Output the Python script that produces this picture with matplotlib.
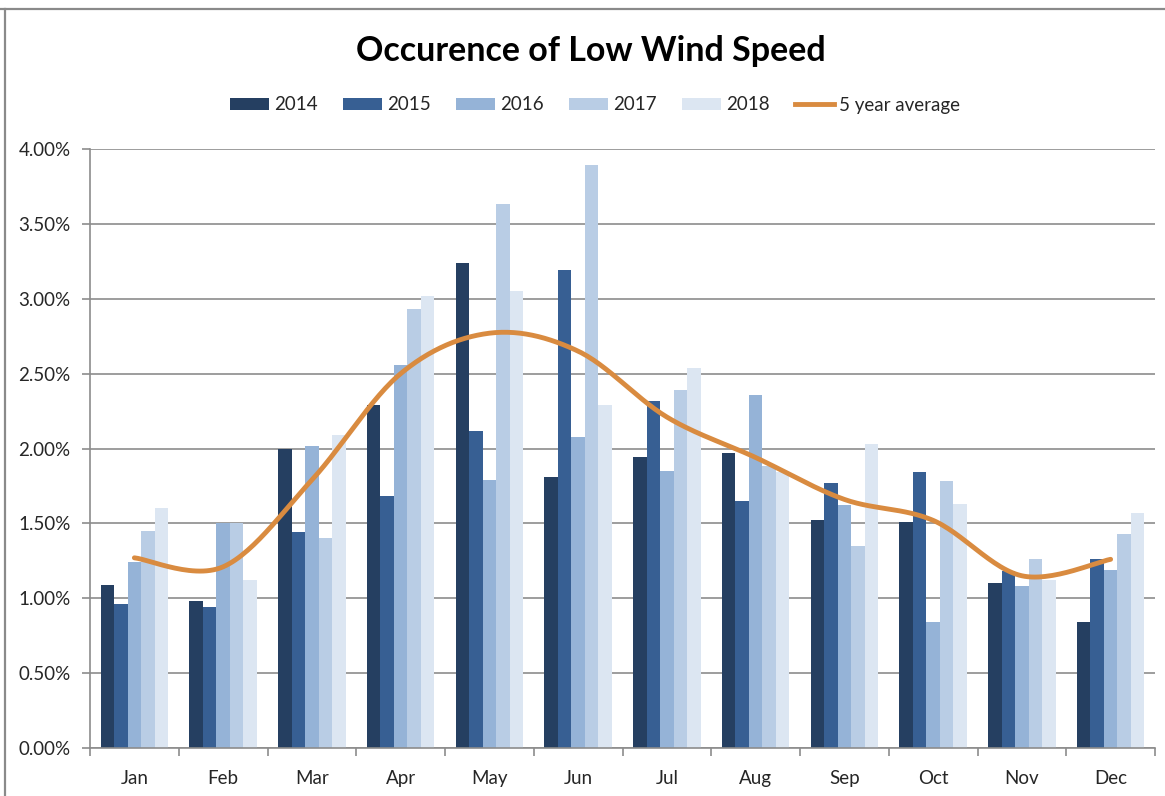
import matplotlib.pyplot as plt
import numpy as np
from matplotlib.lines import Line2D
from matplotlib.patches import Patch

months = ["Jan", "Feb", "Mar", "Apr", "May", "Jun", "Jul", "Aug", "Sep", "Oct", "Nov", "Dec"]
years = ["2014", "2015", "2016", "2017", "2018"]

# share of hours with low wind speed, in percent
y2014 = [1.09, 0.98, 2.00, 2.29, 3.24, 1.81, 1.94, 1.97, 1.52, 1.51, 1.10, 0.84]
y2015 = [0.96, 0.94, 1.44, 1.68, 2.12, 3.19, 2.32, 1.65, 1.77, 1.84, 1.18, 1.26]
y2016 = [1.24, 1.50, 2.02, 2.56, 1.79, 2.08, 1.85, 2.36, 1.62, 0.84, 1.08, 1.19]
y2017 = [1.45, 1.50, 1.40, 2.93, 3.63, 3.89, 2.39, 1.88, 1.35, 1.78, 1.26, 1.43]
y2018 = [1.60, 1.12, 2.09, 3.02, 3.05, 2.29, 2.54, 1.84, 2.03, 1.63, 1.12, 1.57]
avg5 = [1.27, 1.21, 1.79, 2.50, 2.77, 2.65, 2.21, 1.94, 1.66, 1.52, 1.15, 1.26]

bar_colors = ["#253F61", "#375F93", "#95B3D7", "#B9CDE5", "#DCE6F2"]
line_color = "#D98B40"
grid_color = "#8C8C8C"
text_color = "#262626"

plt.rcParams["font.family"] = ["Lato", "DejaVu Sans"]


def smooth_curve(x, y, steps=30):
    """Catmull-Rom spline through the points (same look as Excel's smoothed line)."""
    x = np.asarray(x, float)
    y = np.asarray(y, float)
    px = np.concatenate([[x[0]], x, [x[-1]]])
    py = np.concatenate([[y[0]], y, [y[-1]]])
    xs, ys = [], []
    t = np.linspace(0, 1, steps)
    for i in range(1, len(px) - 2):
        p0, p1, p2, p3 = (np.array([px[k], py[k]]) for k in (i - 1, i, i + 1, i + 2))
        c1 = p1 + (p2 - p0) / 6
        c2 = p2 - (p3 - p1) / 6
        pts = ((1 - t) ** 3)[:, None] * p1 + (3 * (1 - t) ** 2 * t)[:, None] * c1 \
            + (3 * (1 - t) * t ** 2)[:, None] * c2 + (t ** 3)[:, None] * p2
        xs.extend(pts[:, 0])
        ys.extend(pts[:, 1])
    return np.array(xs), np.array(ys)


fig = plt.figure(figsize=(11.65, 7.96), dpi=100)
ax = fig.add_axes([90 / 1165, 1 - 748 / 796, 1065 / 1165, 599 / 796])

series = [y2014, y2015, y2016, y2017, y2018]
centers = np.arange(len(months)) + 0.5
bar_w = 0.152
for k, vals in enumerate(series):
    ax.bar(centers + (k - 2) * bar_w, vals, width=bar_w, color=bar_colors[k], zorder=2)

sx, sy = smooth_curve(centers, avg5)
ax.plot(sx, sy, color=line_color, lw=3.5, solid_capstyle="round", zorder=3)

ax.set_xlim(0, 12)
ax.set_ylim(0, 4)
ax.set_yticks(np.arange(0, 4.01, 0.5))
ax.set_yticklabels([f"{v:.2f}%" for v in np.arange(0, 4.01, 0.5)])
ax.yaxis.grid(True, color=grid_color, lw=1.2, zorder=0)
ax.set_axisbelow(True)

ax.set_xticks(np.arange(13))
ax.set_xticklabels([])
ax.set_xticks(centers, minor=True)
ax.set_xticklabels(months, minor=True)
ax.tick_params(axis="x", which="major", length=6, color=grid_color, width=1.2)
ax.tick_params(axis="x", which="minor", length=0, pad=16, labelsize=13.5, labelcolor=text_color)
ax.tick_params(axis="y", length=6, color=grid_color, width=1.2, pad=8, labelsize=13.5,
               labelcolor=text_color)

for side in ("top", "right"):
    ax.spines[side].set_visible(False)
for side in ("left", "bottom"):
    ax.spines[side].set_color(grid_color)
    ax.spines[side].set_linewidth(1.2)

fig.text(591 / 1165, 1 - 51 / 796, "Occurence of Low Wind Speed", ha="center", va="center",
         fontsize=24.5, fontweight="bold", color="black")

handles = [Patch(facecolor=c, label=y) for c, y in zip(bar_colors, years)]
handles.append(Line2D([], [], color=line_color, lw=3.5, label="5 year average"))
fig.legend(handles=handles, loc="center", bbox_to_anchor=(595 / 1165, 1 - 105 / 796), ncol=6,
           frameon=False, fontsize=13.5, handlelength=2.1, handleheight=0.65,
           handletextpad=0.25, columnspacing=1.35, labelcolor=text_color)

# outer frame lines along the top and left edge
fig.add_artist(Line2D([0, 1], [1 - 9 / 796, 1 - 9 / 796], transform=fig.transFigure,
                      color="#8A8A8A", lw=1.6))
fig.add_artist(Line2D([4.5 / 1165, 4.5 / 1165], [0, 1 - 9 / 796], transform=fig.transFigure,
                      color="#8A8A8A", lw=1.6))

fig.savefig("out.png", dpi=100)
